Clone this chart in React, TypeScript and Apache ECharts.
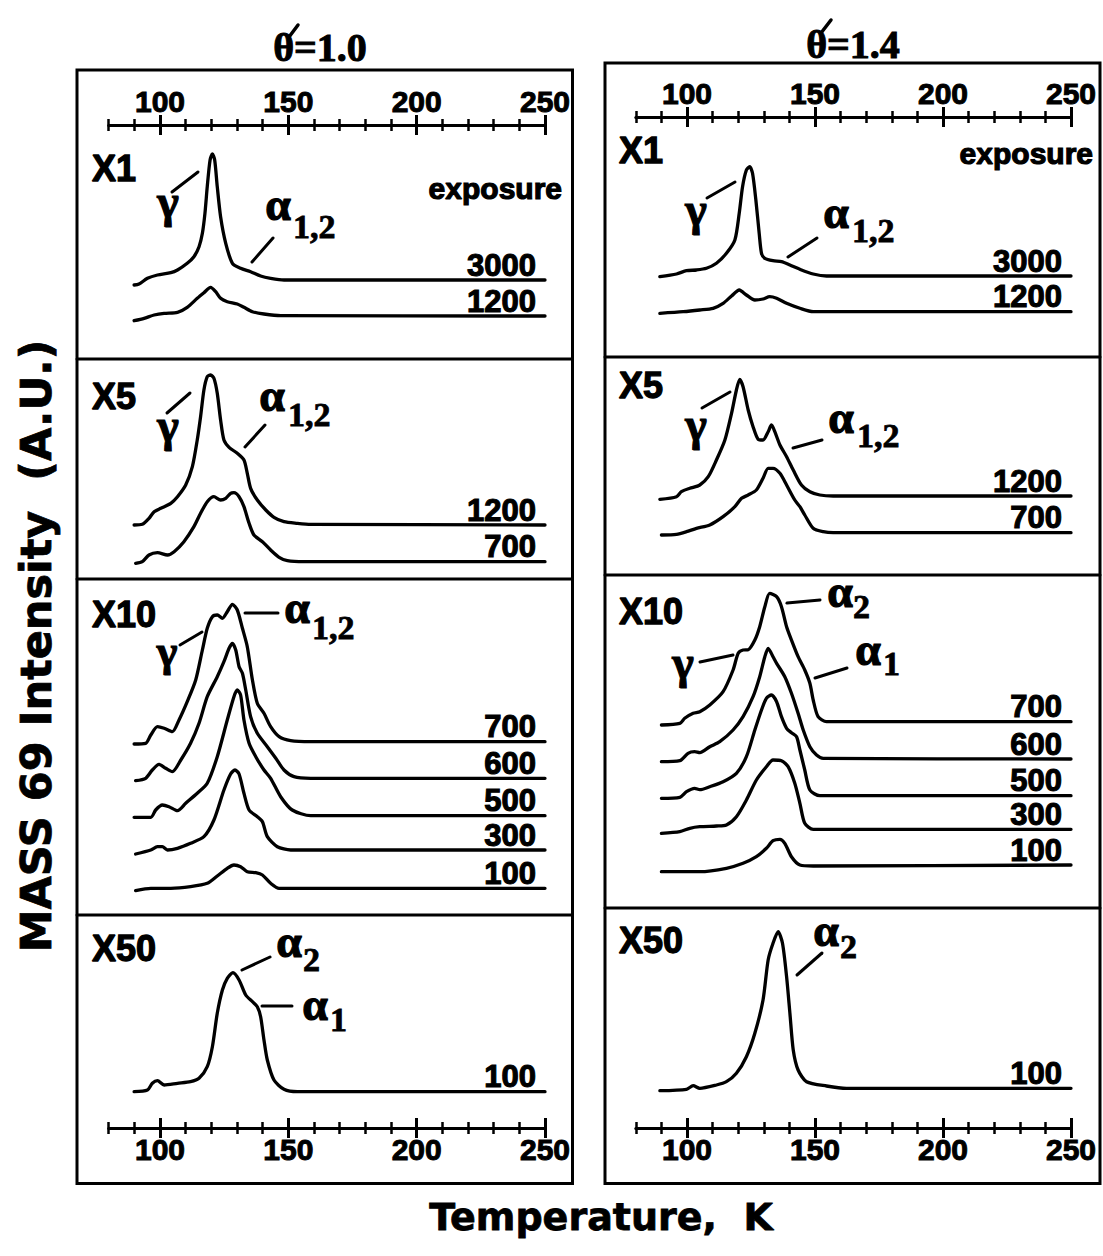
import React, { useEffect, useRef } from "react";
import * as echarts from "echarts";

type Pt = [number, number];

// ---------- axis ----------
const T_MIN = 80;
const T_MAX = 250;
const T_STEP = 10;
const MAJOR_TICKS = [100, 150, 200, 250];
const EXPO_LABEL_T = 246.5; // right edge of the exposure labels, in K

const COLUMN_TITLES = ["θ=1.0", "θ=1.4"];
const GAINS = ["X1", "X5", "X10", "X50"];
const Y_TITLE = "MASS 69 Intensity  (A.U.)";
const X_TITLE = "Temperature,  K";

// ---------- θ'=1.0 : [T (K), intensity above the trace baseline (A.U.)] ----------
const A_X1_3000: Pt[] = [[89.9,-5],[91.8,-4],[95.1,1.7],[99.0,5],[104.2,7.3],[106.8,10],[110.6,16.7],[113.2,23.3],[115.2,33.3],[116.5,46.7],[117.5,66.7],[118.4,93.3],[119.5,120],[120.4,126],[121.3,120],[122.3,93.3],[123.6,63.3],[125.6,36.7],[128.2,16.7],[131.4,11.7],[135.3,8.3],[139.2,4],[143.1,1.7],[148.3,0],[250,0]];
const A_X1_1200: Pt[] = [[89.9,-4.7],[93.8,-2.3],[97.7,1],[101.6,2.7],[106.8,3.7],[110.6,8.7],[114.5,17.7],[117.1,23.3],[119.7,28.7],[121.7,24.3],[123.6,17.7],[126.2,14.3],[130.1,12],[132.7,8.7],[136,4.3],[140.5,2],[147,0.3],[250,0]];
const A_X5_1200: Pt[] = [[89.9,0],[93.1,0.7],[95.7,6.7],[97.7,13.3],[100.3,16.7],[104.2,21.7],[106.8,28.3],[110,40],[112.6,58.3],[114.5,85],[115.8,108.3],[117.1,135],[118.4,148.3],[119.7,150],[121,146.7],[122.3,131.7],[123.6,105],[124.9,85],[126.9,77.7],[130.1,71.7],[132.7,65],[134,51.7],[135.3,36.7],[137.9,25],[141.2,15],[144.4,7.7],[148.3,3.3],[153.5,1.7],[158.7,0.7],[250,0]];
const A_X5_700: Pt[] = [[90.5,-1.6],[93.1,0],[95.7,6.7],[99,9],[102.9,6.7],[105.5,10],[109.3,20],[113.2,35],[115.8,48.4],[118.4,60],[121,65],[123.6,61.7],[125.6,63.4],[127.5,68.4],[128.8,69],[130.8,65],[132.7,55],[134.7,38.4],[136.6,26.7],[139.9,20],[143.1,11.7],[146.4,4.4],[149.6,1],[156.1,0],[250,0]];
const A_X10_700: Pt[] = [[89.9,-2.3],[94.4,-1.6],[96.4,6.7],[99,15],[101.6,13.4],[104.8,10],[107.4,21.7],[110.6,40],[113.9,61.7],[116.5,91.7],[118.4,113.4],[120.4,125],[122.3,126.7],[124.3,123.4],[126.2,130],[128.2,137.4],[130.1,131.7],[132.1,113.4],[134,95],[136,61.7],[137.9,38.4],[140.5,28.4],[143.1,15],[146.4,5],[150.9,1],[158.7,0],[250,0]];
const A_X10_600: Pt[] = [[90.5,-2.4],[94.4,0],[97,8.3],[99.6,14],[102.2,10],[104.8,6.6],[108.1,18.3],[111.9,35],[115.2,55],[118.4,81.6],[122.3,101.6],[124.9,116.6],[126.9,130],[128.2,135],[129.5,128.3],[130.8,111.6],[132.1,105],[133.4,88.3],[135.3,61.6],[137.9,45],[141.8,31.6],[145.1,20],[148.3,8.3],[152.2,1.6],[158.7,0],[250,0]];
const A_X10_500: Pt[] = [[89.9,-1.6],[96.4,-1.6],[98.3,5.7],[100.9,10.7],[103.5,9],[106.8,5],[110,12.4],[114.5,22.4],[118.4,32.4],[122.3,59],[126.2,95.7],[128.8,119],[130.1,125.7],[131.4,120.7],[132.7,95.7],[134.7,72.4],[137.3,59],[140.5,45.7],[143.1,37.4],[147,19],[151.5,5.7],[158.7,0],[250,0]];
const A_X10_300: Pt[] = [[90.5,-4],[96.4,0],[99,3.3],[100.9,3.3],[102.9,0],[106.8,1.7],[111.9,6.7],[117.1,13.3],[121,30],[124.9,60],[127.5,76],[129.2,80],[130.8,76],[132.7,56.7],[134.7,40],[137.9,33.3],[139.9,28.3],[141.8,13.3],[145.7,3.3],[150.9,0],[250,0]];
const A_X10_100: Pt[] = [[90.5,-2.4],[96.4,0],[104.2,0],[111.9,1.7],[118.4,5],[122.3,12.3],[126.2,20],[128.8,23.3],[131.4,21.6],[134,16.6],[137.3,15.6],[139.9,13.3],[143.1,5],[146.4,0],[250,0]];
const A_X50_100: Pt[] = [[89.9,0],[95.1,1.7],[97,8.4],[99,11],[101.6,6.7],[106.8,8.4],[111.9,10],[115.2,13.4],[118.4,25],[120.4,45],[122.3,78.4],[124.3,101.7],[126.2,113.4],[128.4,119],[130.8,111.7],[133.4,96.7],[136,90],[137.9,85],[139.2,75],[140.5,51.7],[141.8,31.7],[144.4,11.7],[148.3,2.4],[153.5,0],[250,0]];

const A_EXPOSURES = [["3000", "1200"], ["1200", "700"], ["700", "600", "500", "300", "100"], ["100"]];
const A_OFFSETS = [[79, 43], [54, 17.3], [173.3, 136.7, 99.3, 65, 26.7], [36.3]];
const A_TRACES = [[A_X1_3000, A_X1_1200], [A_X5_1200, A_X5_700], [A_X10_700, A_X10_600, A_X10_500, A_X10_300, A_X10_100], [A_X50_100]];

// ---------- θ'=1.4 ----------
const B_X1_3000: Pt[] = [[89.4,-0.7],[95.9,2],[99.8,5.3],[103.7,6],[107.6,7.7],[111.5,12.7],[115.4,22.7],[118.7,36],[120.4,62.7],[121.7,89.3],[123.2,106],[124.5,109.3],[125.6,102.7],[126.9,76],[128.2,42.7],[129.1,22.7],[130.4,17.7],[133.6,15.3],[136.9,14.3],[140.2,11],[144.1,6.7],[149.3,2],[154.5,0],[250,0]];
const B_X1_1200: Pt[] = [[89.4,-1.6],[98.5,0],[105,1.7],[110.2,3.4],[114.1,8.4],[117.4,15.7],[120.4,21.7],[123.2,16.7],[126.5,11.7],[129.7,12.7],[132.3,15],[135,13.4],[138.9,8.4],[144.1,3.4],[149.3,0],[250,0]];
const B_X5_1200: Pt[] = [[89.4,-3.3],[95.9,-0.7],[97.8,4.3],[101.1,7.7],[105,11],[108.3,19.3],[111.5,36],[114.8,56],[117.4,82.7],[119.3,106],[120.6,116.7],[121.9,109.3],[123.9,86],[125.8,69.3],[127.8,56.7],[129.7,56],[131.7,64.3],[133,71],[134.3,64.3],[136.3,51],[138.9,39.3],[141.5,26],[144.7,11],[148,4.3],[151.9,1],[157.1,0],[250,0]];
const B_X5_700: Pt[] = [[90,-2.3],[95.9,-1.6],[99.8,1],[103.7,4.4],[108.9,7.7],[114.1,16],[118.7,26],[121.3,34.4],[123.9,37.7],[127.1,42.7],[129.7,54.4],[131.7,64.4],[133.6,64.4],[136.3,59.4],[138.9,47.7],[142.1,32.7],[144.1,26],[146,17.7],[149.3,4.4],[153.2,1],[157.1,0],[250,0]];
const B_X10_700: Pt[] = [[90,-3.3],[97.2,-1.6],[99.1,3.4],[102.4,8.4],[105,10],[108.9,16.7],[114.1,30],[118,51.7],[120,68.4],[121.9,71.7],[123.9,72],[126.5,81.7],[128.4,95],[130.4,115],[132.3,128.4],[135,125],[136.9,115],[138.9,95],[140.8,81.7],[143.4,65],[146,51.7],[148,38.4],[149.3,21.7],[151.2,5],[154.5,0],[250,0]];
const B_X10_600: Pt[] = [[90,-2.7],[97.2,-1.7],[100.4,5.7],[103,7.3],[105,6.3],[108.9,12.3],[112.8,17.3],[118,29],[121.9,42.3],[125.8,62.3],[128.4,82.3],[130.4,102.3],[131.7,110.7],[133.6,102.3],[135,95.7],[138.2,82.3],[140.8,65.7],[143.4,45.7],[145.4,29],[148,12.3],[150.6,4],[153.2,0.7],[250,0]];
const B_X10_500: Pt[] = [[90,-2.6],[97.2,-1.6],[99.8,4],[103,7.4],[105,6],[108.9,9],[114.1,14],[119.3,22.4],[123.2,39],[126.5,65.7],[129.1,85.7],[131,97.4],[133,100.7],[135,94],[136.9,79],[138.9,67.4],[140.8,63],[142.8,59],[144.1,45.7],[146,25.7],[148,5.7],[151.9,0],[250,0]];
const B_X10_300: Pt[] = [[90,-4],[97.2,-2.3],[101.1,1],[105,2.6],[111.5,3.3],[115.4,4.3],[119.3,12.6],[123.2,29.3],[127.1,49.3],[131,62.6],[133.6,69.3],[136.9,68.6],[139.5,62.6],[142.1,46],[144.1,26],[146,6],[149.3,0],[250,0]];
const B_X10_100: Pt[] = [[90,-6.7],[105,-6.7],[115.4,-3.3],[121.9,1.7],[127.1,8.3],[131,16.7],[133.6,24.3],[136.3,25.7],[138.2,21.7],[140.8,8.3],[144.1,0],[149.3,-1],[250,0]];
const B_X50_100: Pt[] = [[89.4,-2.4],[99.8,-1],[102.4,2.6],[105,0],[111.5,3.3],[115.4,6.6],[119.3,15],[123.2,31.6],[126.5,55],[129.7,88.3],[131.7,128.3],[133.6,145],[135.6,156.6],[137.3,145],[138.9,111.6],[140.2,75],[141.5,38.3],[143.4,18.3],[146.7,6.6],[154.5,2.3],[162.3,0],[250,0]];

const B_EXPOSURES = [["3000", "1200"], ["1200", "700"], ["700", "600", "500", "300", "100"], ["100"]];
const B_OFFSETS = [[81, 45.3], [79, 42.3], [186.3, 149, 112.3, 78.7, 43], [39.7]];
const B_TRACES = [[B_X1_3000, B_X1_1200], [B_X5_1200, B_X5_700], [B_X10_700, B_X10_600, B_X10_500, B_X10_300, B_X10_100], [B_X50_100]];

// ---------- layout (px) ----------
type Greek = { g: string; sub?: string; x: number; y: number; sx?: number; sy?: number; size?: number };
type Seg = [number, number, number, number];

const COLUMNS = [
  {
    exposures: A_EXPOSURES, offsets: A_OFFSETS, traces: A_TRACES,
    gridLeft: 108.7, gridWidth: 436.3, rows: [125, 359, 579, 915, 1128],
    box: [77, 70, 495.5, 1113.5], title: [320, 47], prime: [289, 37, 298, 25] as Seg,
    expoWord: [562, 188], gainX: 92, gainY: [168, 396, 614, 948],
    greek: [
      { g: "γ", x: 168, y: 212 }, { g: "α", sub: "1,2", x: 278, y: 210, sx: 293, sy: 226 },
      { g: "γ", x: 168, y: 436 }, { g: "α", sub: "1,2", x: 272, y: 401, sx: 288, sy: 414 },
      { g: "γ", x: 167, y: 661, size: 44 }, { g: "α", sub: "1,2", x: 297, y: 613, sx: 312, sy: 627 },
      { g: "α", sub: "2", x: 289, y: 947, sx: 303, sy: 959 }, { g: "α", sub: "1", x: 315, y: 1010, sx: 330, sy: 1019 },
    ] as Greek[],
    leaders: [
      [172, 192, 198, 172], [252, 262, 273, 238],
      [167, 413, 190, 393], [245, 447, 265, 425],
      [180, 645, 202, 632], [245, 613, 278, 613],
      [242, 970, 270, 957], [262, 1006, 292, 1006],
    ] as Seg[],
  },
  {
    exposures: B_EXPOSURES, offsets: B_OFFSETS, traces: B_TRACES,
    gridLeft: 635.8, gridWidth: 435.2, rows: [117, 357, 575, 908, 1128],
    box: [605, 63, 495, 1120.5], title: [853, 44], prime: [821, 33, 831, 20] as Seg,
    expoWord: [1093, 153], gainX: 619, gainY: [150, 385, 611, 940],
    greek: [
      { g: "γ", x: 696, y: 220 }, { g: "α", sub: "1,2", x: 836, y: 218, sx: 852, sy: 230 },
      { g: "γ", x: 696, y: 435 }, { g: "α", sub: "1,2", x: 841, y: 423, sx: 857, sy: 435 },
      { g: "α", sub: "2", x: 840, y: 597, sx: 853, sy: 606 }, { g: "γ", x: 683, y: 673 },
      { g: "α", sub: "1", x: 868, y: 655, sx: 883, sy: 663 },
      { g: "α", sub: "2", x: 826, y: 936, sx: 840, sy: 946 },
    ] as Greek[],
    leaders: [
      [707, 198, 735, 182], [788, 257, 817, 238],
      [702, 408, 730, 392], [793, 448, 822, 440],
      [787, 603, 820, 600], [700, 662, 733, 655], [815, 678, 847, 668],
      [797, 975, 822, 953],
    ] as Seg[],
  },
];

const SANS = "Liberation Sans";
const HEAVY = "DejaVu Sans";
const SERIF = "Liberation Serif";
const INK = "#000";

// bold text, thickened with a thin outline in the same ink
function text(x: number, y: number, t: string, size: number, family: string, align = "center", extra: any = {}, thicken = 0.9) {
  return {
    type: "text", x, y, silent: true, ...extra,
    style: {
      text: t, x: 0, y: 0, fill: INK, fontSize: size, fontFamily: family, fontWeight: "bold",
      align, verticalAlign: "middle", stroke: INK, lineWidth: thicken,
    },
  };
}
function seg(s: Seg, w = 3) {
  return { type: "line", silent: true, shape: { x1: s[0], y1: s[1], x2: s[2], y2: s[3] }, style: { stroke: INK, lineWidth: w, lineCap: "round" } };
}

function buildOption() {
  const grid: any[] = [], xAxis: any[] = [], yAxis: any[] = [], series: any[] = [];
  const labels: { seriesIndex: number; offset: number; text: string }[] = [];

  COLUMNS.forEach((col) => {
    for (let p = 0; p < 4; p++) {
      const top = col.rows[p], bottom = col.rows[p + 1];
      const gi = grid.length;
      grid.push({ left: col.gridLeft, width: col.gridWidth, top, height: bottom - top });
      yAxis.push({ type: "value", gridIndex: gi, min: 0, max: bottom - top, show: false });
      const base = { type: "value", gridIndex: gi, min: T_MIN, max: T_MAX, interval: T_STEP, splitLine: { show: false } };
      const mainX = xAxis.length;
      if (p === 0 || p === 3) {
        const position = p === 0 ? "top" : "bottom";
        xAxis.push({
          ...base, position,
          axisLine: { show: true, onZero: false, lineStyle: { color: INK, width: 3 } },
          axisTick: { show: false },
          axisLabel: {
            show: true, customValues: MAJOR_TICKS, color: INK, fontSize: 30, fontWeight: "bold", fontFamily: SANS,
            textBorderColor: INK, textBorderWidth: 1, margin: p === 0 ? 9 : 6,
          },
        });
        xAxis.push({
          ...base, position, offset: -6,
          axisLine: { show: false, onZero: false },
          axisTick: { show: true, length: 12, lineStyle: { color: INK, width: 2.5 } },
          axisLabel: { show: false },
        });
        xAxis.push({
          ...base, position, offset: -10,
          axisLine: { show: false, onZero: false },
          axisTick: { show: true, length: 20, customValues: MAJOR_TICKS, lineStyle: { color: INK, width: 3 } },
          axisLabel: { show: false },
        });
      } else {
        xAxis.push({ ...base, show: false });
      }
      col.traces[p].forEach((trace, k) => {
        const off = col.offsets[p][k];
        labels.push({ seriesIndex: series.length, offset: off, text: col.exposures[p][k] });
        series.push({
          type: "line", xAxisIndex: mainX, yAxisIndex: gi, clip: false, silent: true,
          showSymbol: false, smooth: 0.25,
          lineStyle: { color: INK, width: 3.3, cap: "round", join: "round" },
          data: trace.map(([t, v]) => [t, v + off]),
        });
      });
    }
  });

  return { option: { animation: false, backgroundColor: "#fff", grid, xAxis, yAxis, series }, labels };
}

export default function App() {
  const ref = useRef<HTMLDivElement>(null);
  useEffect(() => {
    document.body.style.margin = "0";
    const chart = echarts.init(ref.current!, undefined, { renderer: "svg" });
    const { option, labels } = buildOption();
    chart.setOption(option);

    const elements: any[] = [];
    COLUMNS.forEach((col, c) => {
      const [bx, by, bw, bh] = col.box;
      elements.push({ type: "rect", silent: true, shape: { x: bx, y: by, width: bw, height: bh }, style: { fill: "none", stroke: INK, lineWidth: 3 } });
      col.rows.slice(1, 4).forEach((ry) => elements.push(seg([bx, ry, bx + bw, ry], 3)));
      elements.push(text(col.title[0], col.title[1], COLUMN_TITLES[c], 40, SERIF, "center", {}, 1));
      elements.push(seg(col.prime, 3.5));
      elements.push(text(col.expoWord[0], col.expoWord[1], "exposure", 30, SANS, "right", {}, 1.2));
      GAINS.forEach((g, p) => elements.push(text(col.gainX, col.gainY[p], g, 36, SANS, "left", {}, 1.3)));
      col.greek.forEach((gk) => {
        const size = gk.size || 46;
        elements.push(text(gk.x, gk.y - (gk.g === "γ" ? 0.22 : 0.11) * size, gk.g, size, SERIF, "center", {}, 1.2));
        if (gk.sub) elements.push(text(gk.sx!, gk.sy!, gk.sub, 34, SERIF, "left", {}, 0.8));
      });
      col.leaders.forEach((s) => elements.push(seg(s, 3)));
    });
    labels.forEach((l) => {
      const pt = chart.convertToPixel({ seriesIndex: l.seriesIndex }, [EXPO_LABEL_T, l.offset]) as number[];
      elements.push(text(pt[0], pt[1] - 15, l.text, 31, SANS, "right", {}, 1.1));
    });
    elements.push(text(36, 646, Y_TITLE, 43, HEAVY, "center", { rotation: Math.PI / 2 }, 0.8));
    elements.push(text(601, 1217, X_TITLE, 38, HEAVY, "center", {}, 0.8));

    chart.setOption({ graphic: { elements } });
    return () => chart.dispose();
  }, []);
  return <div ref={ref} style={{ width: 1103, height: 1256 }} />;
}
